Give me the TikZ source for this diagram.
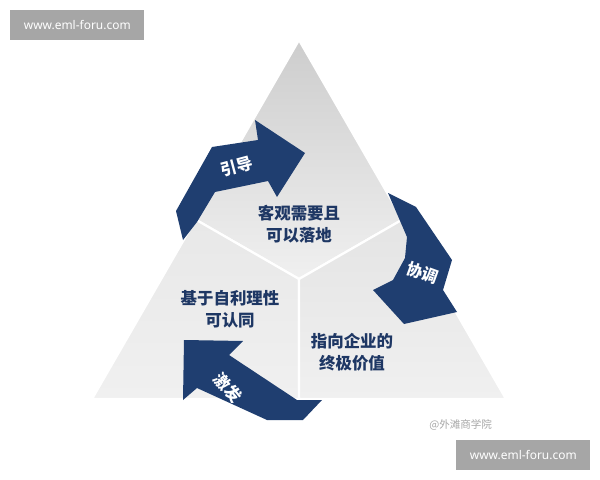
\documentclass[tikz,border=0pt]{standalone}
\usepackage{fontspec}
\newfontfamily\cjk{Noto Sans CJK SC}
\newfontfamily\wmfont{Noto Sans}
\usepackage{tikz}
\definecolor{navy}{RGB}{31,62,112}
\definecolor{navydark}{RGB}{22,46,86}
\definecolor{txtblue}{RGB}{30,55,100}
\definecolor{facetop}{RGB}{205,205,205}
\definecolor{facelight}{RGB}{240,240,240}
\definecolor{faceleft}{RGB}{232,232,232}
\definecolor{faceright}{RGB}{228,228,228}
\definecolor{wmgray}{RGB}{166,166,166}
\tikzstyle{face}=[draw=white, line width=1.6pt, line join=round]
\tikzstyle{arw}=[fill=navy, draw=none]
\tikzstyle{lbl}=[text=txtblue, align=center, font=\cjk\bfseries\fontsize{11.7}{15.6}\selectfont]
\tikzstyle{albl}=[text=white, font=\cjk\bfseries\fontsize{11.5}{14}\selectfont]
\tikzstyle{wm}=[fill=wmgray, text=white, minimum width=3.35cm, minimum height=0.75cm,
                inner sep=0pt, font=\wmfont\fontsize{8.5}{10}\selectfont]
\usetikzlibrary{positioning, calc}

\begin{document}
\begin{tikzpicture}[x=0.025cm, y=-0.025cm]
\useasboundingbox (0,0) rectangle (600,480);

% triangle corners
\coordinate (apex) at (299,40);
\coordinate (bl) at (92,399);
\coordinate (br) at (506,399);
\coordinate (ctr) at (299,279);
\coordinate (ml) at ($(apex)!0.5!(bl)$);
\coordinate (mr) at ($(apex)!0.5!(br)$);
\coordinate (mb) at ($(bl)!0.5!(br)$);

% faces
\shade[face, top color=facetop, bottom color=facelight] (apex) -- (mr) -- (ctr) -- (ml) -- cycle;
\shade[face, top color=faceleft, bottom color=facelight] (ml) -- (ctr) -- (mb) -- (bl) -- cycle;
\shade[face, top color=faceright, bottom color=facelight] (ctr) -- (mr) -- (br) -- (mb) -- cycle;

% arrows
\fill[arw] (176,211) -- (212,147) -- (258,140) -- (255,120) -- (305,153) -- (277,197)
  -- (268,181) -- (215,192) -- (197,222) -- (183,240) -- cycle;
\fill[arw] (388,193) -- (416,207) -- (452,260) -- (443,290) -- (457,312) -- (404,324)
  -- (373,290) -- (393,280) -- (405,258) -- (407,237) -- cycle;
\fill[arw] (184,340) -- (243,341) -- (229,355) -- (297,400) -- (322,400) -- (303,420)
  -- (267,420) -- (197,388) -- (183,400) -- cycle;

% arrow labels
\node[albl, rotate=15] (yd) at (237,167) {引导};
\node[albl, rotate=-20] (xt) at (423,273) {协调};
\node[albl, rotate=-50] (jf) at (228,388) {激发};

% face labels
\node[lbl] (top) at (299,224) {客观需要且\\可以落地};
\node[lbl] (left) at (230,309) {基于自利理性\\可认同};
\node[lbl] (right) at (352,352) {指向企业的\\终极价值};

% watermarks
\node[wm, anchor=north west] (wm1) at (10,10) {www.eml-foru.com};
\node[wm, anchor=north west] (wm2) at (456,440) {www.eml-foru.com};
\node[text=wmgray, anchor=west, inner sep=0pt, font=\cjk\fontsize{7.5}{9}\selectfont] (src) at (429,425) {@外滩商学院};

\end{tikzpicture}
\end{document}
